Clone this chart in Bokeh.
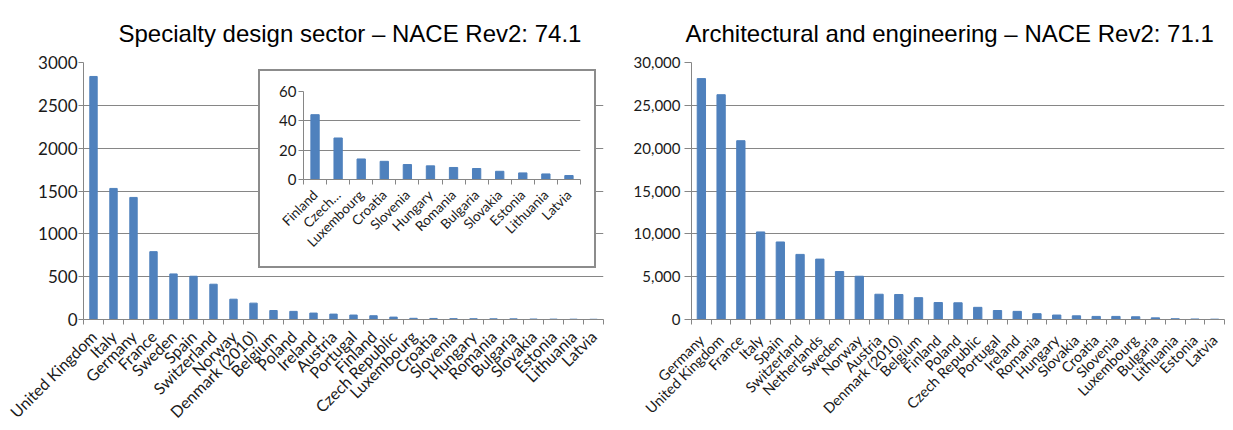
import math
from bokeh.plotting import figure
from bokeh.models import Range1d, FixedTicker, NumeralTickFormatter
from bokeh.layouts import row
from bokeh.embed import file_html
from bokeh.resources import INLINE

# ---------------- data ----------------
spec_countries = ["United Kingdom", "Italy", "Germany", "France", "Sweden", "Spain",
                  "Switzerland", "Norway", "Denmark (2010)", "Belgium", "Poland", "Ireland",
                  "Austria", "Portugal", "Finland", "Czech Republic", "Luxembourg", "Croatia",
                  "Slovenia", "Hungary", "Romania", "Bulgaria", "Slovakia", "Estonia",
                  "Lithuania", "Latvia"]
spec_values = [2837, 1530, 1425, 792, 532, 505, 412, 237, 191, 105, 95, 75, 63, 52,
               44, 28, 14, 12.4, 10.2, 9.3, 8.2, 7.5, 5.6, 4.5, 3.8, 2.7]

inset_countries = ["Finland", "Czech…", "Luxembourg", "Croatia", "Slovenia", "Hungary",
                   "Romania", "Bulgaria", "Slovakia", "Estonia", "Lithuania", "Latvia"]
inset_values = [44.2, 28.3, 14.0, 12.4, 10.2, 9.3, 8.2, 7.5, 5.6, 4.5, 3.8, 2.7]

arch_countries = ["Germany", "United Kingdom", "France", "Italy", "Spain", "Switzerland",
                  "Netherlands", "Sweden", "Norway", "Austria", "Denmark (2010)", "Belgium",
                  "Finland", "Poland", "Czech Republic", "Portugal", "Ireland", "Romania",
                  "Hungary", "Slovakia", "Croatia", "Slovenia", "Luxembourg", "Bulgaria",
                  "Lithuania", "Estonia", "Latvia"]
arch_values = [28120, 26240, 20870, 10220, 9050, 7600, 7050, 5600, 5050, 2950, 2920, 2550,
               1980, 1950, 1420, 1050, 950, 680, 520, 430, 360, 360, 320, 190, 90, 60, 40]

spec_title = "Specialty design sector – NACE Rev2: 74.1"
arch_title = "Architectural and engineering – NACE Rev2: 71.1"

BAR = "#4F81BD"
GRID = "#868686"
LABEL_FONT = "Lato"


def style_chart(p, countries, values, ymax, ystep, fmt, ylabel_size, xlabel_size,
                bar_w, ytick_out, ystandoff, xstandoff):
    n = len(countries)
    p.vbar(x=list(range(n)), top=values, width=bar_w, color=BAR)
    p.outline_line_color = None
    p.background_fill_color = "white"
    p.border_fill_color = "white"

    # x axis: labels at centres, tick marks at category boundaries
    p.xaxis.ticker = FixedTicker(ticks=list(range(n)),
                                 minor_ticks=[i - 0.5 for i in range(n + 1)])
    p.xaxis.major_label_overrides = {i: c for i, c in enumerate(countries)}
    p.xaxis.major_label_orientation = math.pi / 4
    p.xaxis.major_tick_out = 0
    p.xaxis.major_tick_in = 0
    p.xaxis.minor_tick_out = 5
    p.xaxis.minor_tick_in = 0
    p.xaxis.minor_tick_line_color = GRID
    p.xaxis.axis_line_color = GRID
    p.xaxis.major_label_text_font = LABEL_FONT
    p.xaxis.major_label_text_font_size = xlabel_size
    p.xaxis.major_label_text_color = "#1a1a1a"
    p.xaxis.major_label_standoff = xstandoff
    p.xgrid.grid_line_color = None

    # y axis
    p.yaxis.ticker = FixedTicker(ticks=list(range(0, ymax + 1, ystep)))
    if fmt:
        p.yaxis.formatter = NumeralTickFormatter(format=fmt)
    p.yaxis.major_tick_out = ytick_out
    p.yaxis.major_tick_in = 0
    p.yaxis.minor_tick_line_color = None
    p.yaxis.major_tick_line_color = GRID
    p.yaxis.axis_line_color = GRID
    p.yaxis.major_label_text_font = LABEL_FONT
    p.yaxis.major_label_text_font_size = ylabel_size
    p.yaxis.major_label_text_color = "#1a1a1a"
    p.yaxis.major_label_standoff = ystandoff
    p.ygrid.grid_line_color = GRID
    p.ygrid.ticker = FixedTicker(ticks=list(range(ystep, ymax + 1, ystep)))
    return p


def main_chart(countries, values, ymax, ystep, width, title, fmt, bl, br, bt,
               ylabel_size, xlabel_size, bar_w, ytick_out, ystandoff, xstandoff,
               title_offset):
    n = len(countries)
    p = figure(width=width, height=430,
               x_range=Range1d(-0.5, n - 0.5), y_range=Range1d(0, ymax),
               output_backend="svg", toolbar_location=None,
               min_border_left=bl, min_border_right=br,
               min_border_top=bt, min_border_bottom=108, title=title)
    style_chart(p, countries, values, ymax, ystep, fmt, ylabel_size, xlabel_size,
                bar_w, ytick_out, ystandoff, xstandoff)
    p.title.text_font = "Liberation Sans"
    p.title.text_font_size = "24px"
    p.title.text_font_style = "normal"
    p.title.text_color = "black"
    p.title.align = "left"
    p.title.offset = title_offset
    p.title.standoff = 31
    return p


left = main_chart(spec_countries, spec_values, 3000, 500, 620, spec_title, None,
                  83, 17, 61, "17px", "16px", 0.37, 5, 1, 9, 35)
right = main_chart(arch_countries, arch_values, 30000, 5000, 612, arch_title, "0,0",
                   71, 8, 62, "15px", "14.5px", 0.42, 7, 4, 13, -6)
layout = row(left, right)

n_in = len(inset_countries)
inset = figure(width=338, height=199,
               x_range=Range1d(-0.5, n_in - 0.5), y_range=Range1d(0, 60),
               output_backend="svg", toolbar_location=None,
               min_border_left=43, min_border_right=18, min_border_top=20,
               min_border_bottom=91,
               styles={"position": "absolute", "left": "258px", "top": "69px",
                       "border": "2px solid #8c8c8c", "background-color": "white"})
inset.title.visible = False
style_chart(inset, inset_countries, inset_values, 60, 20, None, "15px", "13.5px",
            0.36, 5, 2, 8)

open("out.html", "w").write(file_html([layout, inset], INLINE))
